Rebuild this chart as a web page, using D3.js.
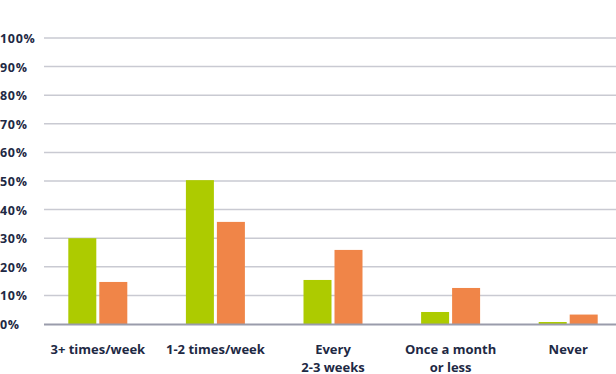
<!DOCTYPE html>
<html>
<head>
<meta charset="utf-8">
<script src="https://cdn.jsdelivr.net/npm/d3@7"></script>
<style>
  body { margin: 0; background: #fff; }
  text { font-family: "Open Sans", Lato, sans-serif; font-weight: 700; fill: #1e2944; }
</style>
</head>
<body>
<script>
// data
const categories = ["3+ times/week", "1-2 times/week", "Every\n2-3 weeks", "Once a month\nor less", "Never"];
const greenValues = [30, 50.3, 15.4, 4.2, 0.7];
const orangeValues = [14.7, 35.7, 25.9, 12.6, 3.3];
const yTicks = [0, 10, 20, 30, 40, 50, 60, 70, 80, 90, 100];

const width = 616, height = 374;
const svg = d3.select("body").append("svg")
  .attr("width", width)
  .attr("height", height);

const xScale = d3.scaleBand()
  .domain(categories)
  .range([39, 627]);
const yScale = d3.scaleLinear()
  .domain([0, 100])
  .range([324, 38]);

// gridlines
svg.append("g")
  .selectAll("line")
  .data(yTicks.filter(d => d > 0))
  .join("line")
  .attr("x1", 44).attr("x2", width)
  .attr("y1", d => yScale(d)).attr("y2", d => yScale(d))
  .attr("stroke", "#c9cad2")
  .attr("stroke-width", 1.5);

// tick labels
svg.append("g")
  .selectAll("text")
  .data(yTicks)
  .join("text")
  .attr("x", 0)
  .attr("y", d => yScale(d) + 5)
  .attr("font-size", 12.5)
  .attr("letter-spacing", 0.7)
  .text(d => d + "%");

const barW = 28, gap = 3;
const groups = svg.append("g");
groups.selectAll("rect.green")
  .data(greenValues)
  .join("rect")
  .attr("class", "green")
  .attr("x", (d, i) => xScale(categories[i]) + xScale.bandwidth() / 2 - barW - gap / 2)
  .attr("y", d => yScale(d))
  .attr("width", barW)
  .attr("height", d => yScale(0) - yScale(d))
  .attr("fill", "#adcb00");
groups.selectAll("rect.orange")
  .data(orangeValues)
  .join("rect")
  .attr("class", "orange")
  .attr("x", (d, i) => xScale(categories[i]) + xScale.bandwidth() / 2 + gap / 2)
  .attr("y", d => yScale(d))
  .attr("width", barW)
  .attr("height", d => yScale(0) - yScale(d))
  .attr("fill", "#f08548");

// baseline
svg.append("line")
  .attr("x1", 44).attr("x2", width)
  .attr("y1", yScale(0) + 0.5).attr("y2", yScale(0) + 0.5)
  .attr("stroke", "#9a9cab")
  .attr("stroke-width", 2);

// category labels
const labels = svg.append("g")
  .selectAll("text")
  .data(categories)
  .join("text")
  .attr("text-anchor", "middle")
  .attr("font-size", 13)
  .attr("y", 354);
labels.each(function(d) {
  const t = d3.select(this);
  const x = xScale(d) + xScale.bandwidth() / 2;
  d.split("\n").forEach((line, k) => {
    t.append("tspan").attr("x", x).attr("dy", k === 0 ? 0 : 18).text(line);
  });
});
</script>
</body>
</html>
